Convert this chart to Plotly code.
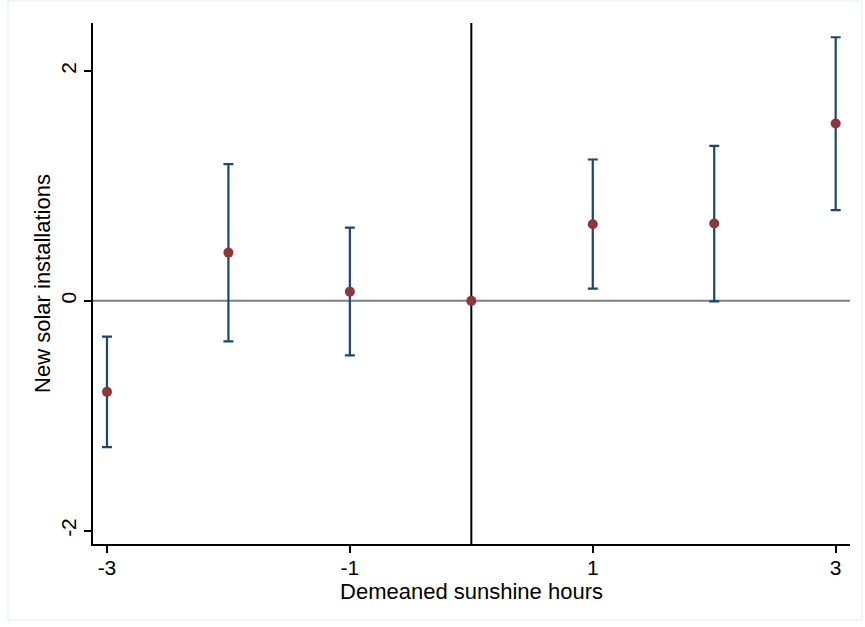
import plotly.graph_objects as go

x_vals = [-3, -2, -1, 0, 1, 2, 3]
estimates = [-0.792, 0.42, 0.080, 0.0, 0.667, 0.673, 1.544]
ci_upper = [-0.312, 1.19, 0.638, 0.0, 1.23, 1.349, 2.294]
ci_lower = [-1.273, -0.353, -0.475, 0.0, 0.106, -0.004, 0.789]
x_ticks = [-3, -1, 1, 3]
y_ticks = [-2, 0, 2]

err_plus = [u - e for u, e in zip(ci_upper, estimates)]
err_minus = [e - l for e, l in zip(estimates, ci_lower)]

fig = go.Figure()

# outer graph-region border
fig.add_shape(type="rect", xref="paper", yref="paper",
              x0=(8 - 93) / 757, x1=(862 - 93) / 757,
              y0=(544 - 620) / 521, y1=(544 - 1) / 521,
              line=dict(color="#e4ebee", width=1), layer="below")

# zero reference lines
fig.add_hline(y=0, line=dict(color="#7f7f7f", width=2), layer="below")
fig.add_vline(x=0, line=dict(color="black", width=2), layer="below")

# confidence intervals (skip reference category with zero-width interval)
ex, eu, el, ey = [], [], [], []
for x, e, p, m in zip(x_vals, estimates, err_plus, err_minus):
    if p > 0 or m > 0:
        ex.append(x); ey.append(e); eu.append(p); el.append(m)
fig.add_trace(go.Scatter(
    x=ex, y=ey, mode="markers",
    marker=dict(size=1, color="rgba(0,0,0,0)"),
    error_y=dict(type="data", symmetric=False, array=eu, arrayminus=el,
                 color="#1a476f", thickness=2.2, width=5),
    showlegend=False, hoverinfo="skip"))

# point estimates
fig.add_trace(go.Scatter(
    x=x_vals, y=estimates, mode="markers",
    marker=dict(size=10, color="#90353b"),
    showlegend=False))

font_family = "Liberation Sans, Arial, Helvetica, sans-serif"

fig.update_layout(
    width=865, height=627,
    margin=dict(l=93, r=15, t=23, b=83),
    paper_bgcolor="white", plot_bgcolor="white",
    font=dict(family=font_family, color="black", size=21),
    xaxis=dict(
        range=[-3.115, 3.118], tickvals=x_ticks, ticktext=[str(t) for t in x_ticks],
        showgrid=False, zeroline=False, showline=True, linecolor="black", linewidth=2,
        ticks="outside", ticklen=7, tickwidth=2, tickcolor="black",
        tickfont=dict(size=21), ticklabelstandoff=-3,
        title=dict(text="Demeaned sunshine hours", font=dict(size=22), standoff=4),
    ),
    yaxis=dict(
        range=[-2.116, 2.418], tickvals=y_ticks, ticktext=[str(t) for t in y_ticks],
        showgrid=False, zeroline=False, showline=True, linecolor="black", linewidth=2,
        ticks="outside", ticklen=7, tickwidth=2, tickcolor="black",
        tickangle=-90, tickfont=dict(size=21),
        title=dict(text="New solar installations", font=dict(size=22), standoff=0),
    ),
)

fig.write_html("out.html")
